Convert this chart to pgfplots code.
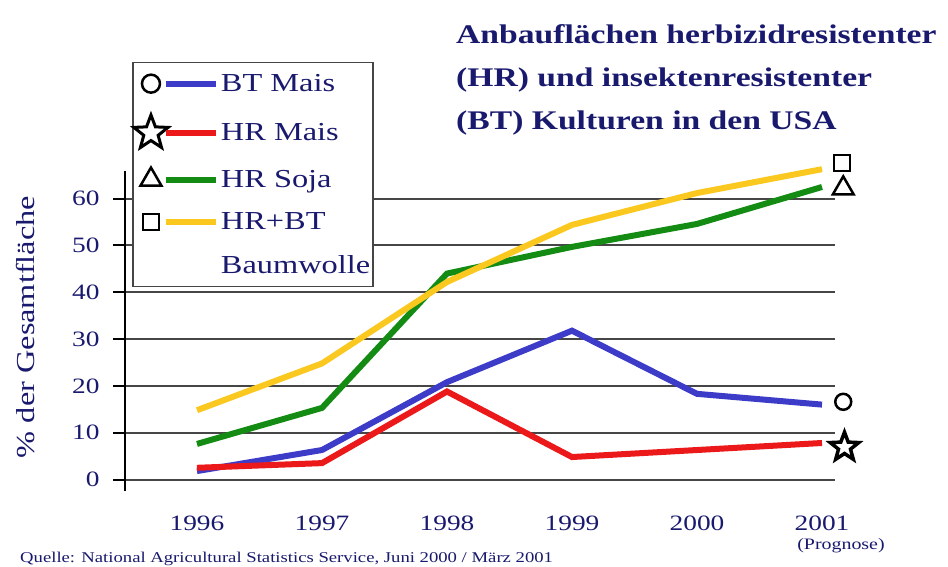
\documentclass[border=0pt]{standalone}
\usepackage{fontspec}
\setmainfont{Liberation Serif}[FakeStretch=1.25]
\usepackage{pgfplots}
\pgfplotsset{compat=1.18}
\usetikzlibrary{plotmarks}

\definecolor{navy}{RGB}{25,25,110}
\definecolor{cblue}{RGB}{60,60,200}
\definecolor{cred}{RGB}{235,25,25}
\definecolor{cgreen}{RGB}{20,140,20}
\definecolor{cyellow}{RGB}{250,200,30}
\definecolor{gridc}{RGB}{70,70,70}

\pgfdeclareplotmark{fstar}{%
 \pgfpathmoveto{\pgfpointpolar{90}{\pgfplotmarksize}}%
 \pgfpathlineto{\pgfpointpolar{126}{0.42\pgfplotmarksize}}%
 \pgfpathlineto{\pgfpointpolar{162}{\pgfplotmarksize}}%
 \pgfpathlineto{\pgfpointpolar{198}{0.42\pgfplotmarksize}}%
 \pgfpathlineto{\pgfpointpolar{234}{\pgfplotmarksize}}%
 \pgfpathlineto{\pgfpointpolar{270}{0.42\pgfplotmarksize}}%
 \pgfpathlineto{\pgfpointpolar{306}{\pgfplotmarksize}}%
 \pgfpathlineto{\pgfpointpolar{342}{0.42\pgfplotmarksize}}%
 \pgfpathlineto{\pgfpointpolar{18}{\pgfplotmarksize}}%
 \pgfpathlineto{\pgfpointpolar{54}{0.42\pgfplotmarksize}}%
 \pgfpathclose
 \pgfusepathqfillstroke}

\begin{document}
\begin{tikzpicture}
\useasboundingbox (-125bp,-75.8bp) rectangle (823bp,491.2bp);
\begin{axis}[
  scale only axis,
  width=710bp, height=320.6bp,
  xmin=1995.424, xmax=2001.104,
  ymin=-2.5, ymax=66,
  clip=false,
  axis x line*=bottom, axis y line*=left,
  x axis line style={draw=none},
  y axis line style={line width=2bp, black},
  xtick={1996,1997,1998,1999,2000,2001},
  xticklabels={1996,1997,1998,1999,2000,2001},
  ytick={0,10,20,30,40,50,60},
  /pgf/number format/assume math mode=true,
  tick align=outside,
  x tick style={draw=none},
  y tick style={line width=2bp, black},
  major tick length=12bp,
  ymajorgrids,
  grid style={line width=2bp, gridc},
  tick label style={font=\fontsize{22}{26}\selectfont, text=navy},
  xticklabel style={yshift=-9bp},
  yticklabel style={xshift=-10bp},
  legend cell align=left,
  legend style={at={(axis description cs:0.01,1.34)}, anchor=north west,
    draw=gridc, line width=1.5bp, fill=white,
    font=\fontsize{26}{30}\selectfont, text=navy,
    inner xsep=1bp, inner ysep=10bp, row sep=20bp, column sep=0bp},
]
\addplot[cblue, line width=6bp,
  legend image code/.code={
    \draw[black, line width=2.5bp, fill=white] (0bp,0bp) circle[radius=9bp];
    \draw[cblue, line width=6bp] (15bp,0bp) -- (65bp,0bp);}]
  coordinates {(1996,1.8) (1997,6.3) (1998,20.8) (1999,31.8) (2000,18.3) (2001,16.0)};
\addlegendentry{BT Mais}
\addplot[cred, line width=6bp,
  legend image code/.code={
    \draw[black, line width=3bp, fill=white] plot[mark=fstar, mark size=18bp] coordinates {(0bp,0bp)};
    \draw[cred, line width=6bp] (15bp,0bp) -- (65bp,0bp);}]
  coordinates {(1996,2.5) (1997,3.5) (1998,18.8) (1999,4.8) (2000,6.3) (2001,7.8)};
\addlegendentry{HR Mais}
\addplot[cgreen, line width=6bp,
  legend image code/.code={
    \draw[black, line width=2.5bp, fill=white] plot[mark=triangle, mark size=12bp] coordinates {(0bp,0bp)};
    \draw[cgreen, line width=6bp] (15bp,0bp) -- (65bp,0bp);}]
  coordinates {(1996,7.6) (1997,15.3) (1998,44.0) (1999,49.7) (2000,54.6) (2001,62.5)};
\addlegendentry{HR Soja}
\addplot[cyellow, line width=6bp,
  legend image code/.code={
    \draw[black, line width=2.5bp, fill=white] (-8bp,-8bp) rectangle (8bp,8bp);
    \draw[cyellow, line width=6bp] (15bp,0bp) -- (65bp,0bp);}]
  coordinates {(1996,14.8) (1997,24.8) (1998,42.2) (1999,54.4) (2000,61.2) (2001,66.3)};
\addlegendentry{HR+BT}
\addlegendimage{empty legend}
\addlegendentry{Baumwolle}
% end markers
\addplot[forget plot, only marks, mark=o, mark size=8bp, black, line width=2.5bp] coordinates {(2001.17,16.6)};
\addplot[forget plot, only marks, mark=fstar, mark size=15bp, black, line width=3.5bp, mark options={fill=white}] coordinates {(2001.18,6.9)};
\addplot[forget plot, only marks, mark=triangle, mark size=12bp, black, line width=2.5bp] coordinates {(2001.17,62.2)};
\addplot[forget plot, only marks, mark=square, mark size=8bp, black, line width=2.5bp] coordinates {(2001.16,67.6)};
\end{axis}
\node[anchor=north west, inner sep=0pt, align=left, text=navy,
  font=\bfseries\fontsize{27}{43}\selectfont] at (331bp,466.7bp)
  {Anbauflächen herbizidresistenter\\(HR) und insektenresistenter\\(BT) Kulturen in den USA};
\node[rotate=90, text=navy, font=\fontsize{26}{30}\selectfont] at (-99bp,164.2bp) {\% der Gesamtfläche};
\node[text=navy, font=\fontsize{16}{19}\selectfont] at (716bp,-54.8bp) {(Prognose)};
\node[anchor=base west, inner sep=0pt, text=navy, font=\fontsize{15}{18}\selectfont] at (-105bp,-71.5bp)
  {Quelle: National Agricultural Statistics Service, Juni 2000 / März 2001};
\end{tikzpicture}
\end{document}
